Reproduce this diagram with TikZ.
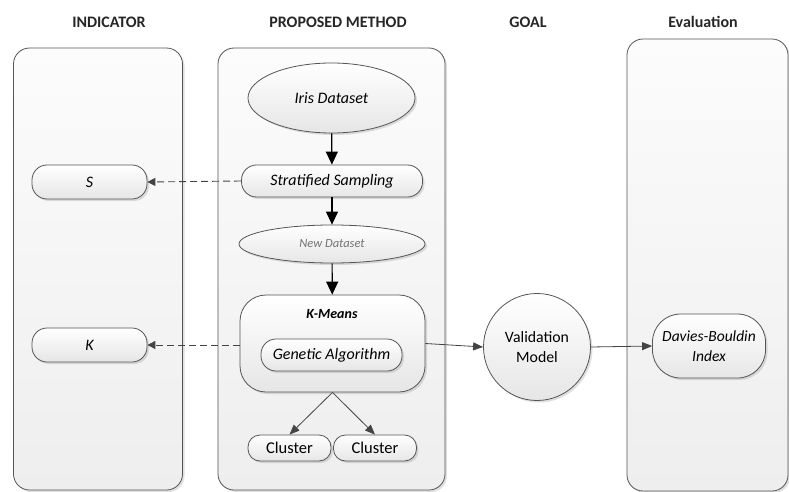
\documentclass[tikz,border=0pt]{standalone}
\usepackage{fontspec}
\setmainfont{Carlito}
\usetikzlibrary{shadows,arrows.meta,shapes.geometric}
\definecolor{lanetop}{HTML}{FCFCFC}
\definecolor{lanebot}{HTML}{EEEEEE}
\definecolor{nodebot}{HTML}{E6E6E6}
\definecolor{edgegray}{HTML}{555555}
\definecolor{linegray}{HTML}{444444}
\tikzset{
  lane/.style={draw=edgegray, line width=0.8pt, rounded corners=16pt, top color=lanetop, bottom color=lanebot,
    drop shadow={shadow xshift=2pt, shadow yshift=-2pt, opacity=0.25}, inner sep=0pt},
  hdr/.style={font=\bfseries\fontsize{16}{18}\selectfont, text=black!85},
  capsule/.style={draw=edgegray, line width=0.8pt, rounded corners=15pt, top color=white, bottom color=nodebot,
    drop shadow={shadow xshift=2pt, shadow yshift=-2pt, opacity=0.25}, inner sep=0pt,
    font=\itshape\fontsize{16}{19}\selectfont},
  ell/.style={ellipse, draw=edgegray, line width=0.8pt, top color=white, bottom color=nodebot,
    drop shadow={shadow xshift=2pt, shadow yshift=-2pt, opacity=0.25}, inner sep=0pt},
  flowarrow/.style={line width=1.2pt, black, -{Triangle[length=13pt,width=12pt]}},
  dasharrow/.style={line width=0.9pt, linegray, dash pattern=on 7pt off 4pt, -{Triangle[length=8pt,width=8pt]}},
  thinarrow/.style={line width=0.8pt, linegray, -{Triangle[length=10pt,width=8pt]}}
}
\begin{document}
\begin{tikzpicture}[x=1pt,y=-1pt]
\useasboundingbox (0,0) rectangle (789,492);
% lanes
\node[lane, minimum width=169pt, minimum height=442pt] (lane1) at (98,269) {};
\node[lane, minimum width=227pt, minimum height=442pt] (lane2) at (331.5,269) {};
\node[lane, minimum width=161pt, minimum height=452pt] (lane3) at (707.5,265) {};
% headers
\node[hdr] (h1) at (109,22) {INDICATOR};
\node[hdr] (h2) at (338,22) {PROPOSED METHOD};
\node[hdr] (h3) at (528,22) {GOAL};
\node[hdr] (h4) at (703,22) {Evaluation};
% method nodes
\node[ell, minimum width=167pt, minimum height=70pt, font=\itshape\fontsize{16}{19}\selectfont] (iris) at (331.5,98) {Iris Dataset};
\node[capsule, minimum width=181pt, minimum height=32pt] (strat) at (332,181) {Stratified Sampling};
\node[ell, minimum width=186pt, minimum height=38pt, font=\itshape\fontsize{12.5}{14}\selectfont, text=black!55] (new) at (332,244) {New Dataset};
\node[capsule, rounded corners=26pt, minimum width=185pt, minimum height=97pt] (km) at (332.5,343.5) {};
\node[font=\bfseries\itshape\fontsize{14}{16}\selectfont] (kmt) at (332,314) {K-Means};
\node[capsule, minimum width=141pt, minimum height=32pt] (ga) at (331.5,355) {Genetic Algorithm};
\node[capsule, rounded corners=12pt, minimum width=83pt, minimum height=26pt, font=\fontsize{16.5}{19}\selectfont] (c1) at (289.5,448) {Cluster};
\node[capsule, rounded corners=12pt, minimum width=83pt, minimum height=26pt, font=\fontsize{16.5}{19}\selectfont] (c2) at (375,448) {Cluster};
% indicator nodes
\node[capsule, minimum width=115pt, minimum height=34pt] (s) at (89.5,182) {S};
\node[capsule, minimum width=115pt, minimum height=34pt] (k) at (89.5,345) {K};
% goal & evaluation
\node[circle, draw=edgegray, line width=0.8pt, top color=white, bottom color=nodebot,
  drop shadow={shadow xshift=2pt, shadow yshift=-2pt, opacity=0.25}, minimum size=107pt, inner sep=0pt,
  align=center, font=\fontsize{15.8}{20}\selectfont] (val) at (537,347) {Validation\\Model};
\node[capsule, rounded corners=28pt, minimum width=113pt, minimum height=64pt, align=center,
  font=\itshape\fontsize{15.5}{20}\selectfont] (db) at (709,346) {Davies-Bouldin\\Index};
% connectors
\draw[flowarrow] (iris) -- (strat);
\draw[flowarrow] (strat) -- (new);
\draw[flowarrow] (new) -- (km);
\draw[dasharrow] (strat.west) -- (s.east);
\draw[dasharrow] (km.west |- k.east) -- (k.east);
\draw[thinarrow] (km.east) -- (val.west);
\draw[thinarrow] (val.east) -- (db.west);
\draw[thinarrow] (km.south) -- (c1.north);
\draw[thinarrow] (km.south) -- (c2.north);
\end{tikzpicture}
\end{document}
